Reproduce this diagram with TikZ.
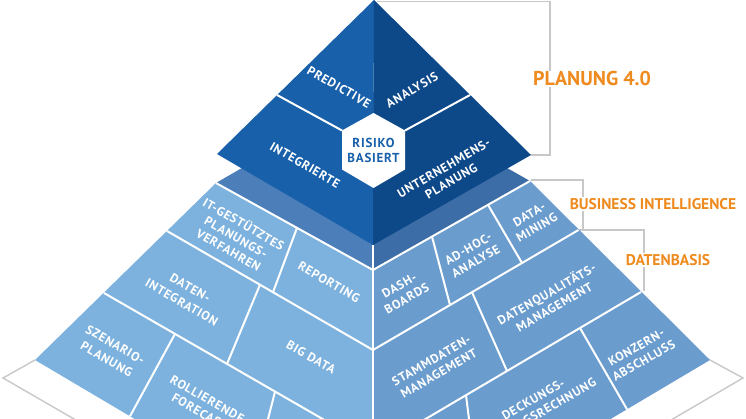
\documentclass[tikz,border=0pt]{standalone}
\usepackage{fontspec}
\setmainfont{PT Sans}
\newfontfamily\brickfont{PT Sans}[LetterSpace=6]
\definecolor{topL}{RGB}{24,96,170}
\definecolor{topR}{RGB}{13,72,137}
\definecolor{bandL}{RGB}{76,126,186}
\definecolor{bandR}{RGB}{60,109,166}
\definecolor{faceL}{RGB}{125,178,222}
\definecolor{faceR}{RGB}{106,156,206}
\definecolor{grayline}{RGB}{200,200,200}
\definecolor{orangeT}{RGB}{238,138,30}
\tikzset{
  wline/.style={draw=white, line width=2pt},
  gline/.style={draw=grayline, line width=1.4pt},
  brick/.style={text=white, font=\brickfont\bfseries\fontsize{12.5}{15}\selectfont, align=center, inner sep=0pt},
  widebrick/.style={font=\brickfont\bfseries\fontsize{12.5}{17}\selectfont},
  lbrick/.style={brick, rotate=-30},
  rbrick/.style={brick, rotate=30},
  hexlabel/.style={brick, text=topL, font=\brickfont\bfseries\fontsize{13}{15}\selectfont},
  callout/.style={text=orangeT, fill=white, inner sep=1pt, font=\bfseries\fontsize{15.5}{18}\selectfont},
  bigcallout/.style={callout, font=\bfseries\fontsize{20}{24}\selectfont},
}
\begin{document}
\begin{tikzpicture}[x=1pt,y=-1pt]
\useasboundingbox (0,0) rectangle (746,419);
\clip (0,0) rectangle (746,419);
% top pyramid points
\coordinate (A) at (374,0);
\coordinate (PL) at (217,154);
\coordinate (PF) at (373,245);
\coordinate (PR) at (531,155);
% band / frustum top
\coordinate (BB) at (373,92);
\coordinate (BL) at (216,183);
\coordinate (BF) at (373,270);
\coordinate (BR) at (530,181);
% lower faces
\coordinate (FL) at (35,360);
\coordinate (FR) at (710,360);
\coordinate (FB) at (373,560);
\coordinate (CB) at (373,600);
% row lines
\coordinate (RL1a) at (167,231);   \coordinate (RL1b) at (373,350);
\coordinate (RL2a) at (104,293);   \coordinate (RL2b) at (373,448);
\coordinate (RR1a) at (578.5,230); \coordinate (RR1b) at (373,350);
\coordinate (RR2a) at (641,292);   \coordinate (RR2b) at (373,450);
% dividers left
\coordinate (D1t) at (297,227.9); \coordinate (D1b) at (273,292.2);
\coordinate (D2t) at (260,284.7); \coordinate (D2b) at (227,363.9);
\coordinate (D3t) at (175,333.9); \coordinate (D3b) at (130,416.2);
\coordinate (D4t) at (275,391.5); \coordinate (D4b) at (262,443);
% dividers right
\coordinate (E1t) at (432,236.6); \coordinate (E1b) at (450,305);
\coordinate (E2t) at (488,204.8); \coordinate (E2b) at (522,263);
\coordinate (E3t) at (472,292.2); \coordinate (E3b) at (507,371);
\coordinate (E4t) at (466,395.2); \coordinate (E4b) at (472,443);
\coordinate (E5t) at (580,328);   \coordinate (E5b) at (627,409.3);
% floor
\coordinate (GL1) at (3,378); \coordinate (GL2) at (100,434);
\coordinate (GR1) at (743,378); \coordinate (GR2) at (647,434);
% brackets
\coordinate (K1a) at (377,1.5); \coordinate (K1b) at (550,1.5);
\coordinate (K1c) at (550,155); \coordinate (K1d) at (531,155);
\coordinate (K2a) at (531,180); \coordinate (K2b) at (583,180);
\coordinate (K2c) at (583,230);
\coordinate (K3a) at (578.5,230); \coordinate (K3b) at (644,230);
\coordinate (K3c) at (644,291);

% brackets
\draw[gline] (K1a) -- (K1b) -- (K1c) -- (K1d);
\draw[gline] (K2a) -- (K2b) -- (K2c);
\draw[gline] (K3a) -- (K3b) -- (K3c);

% band
\fill[bandL] (BL) -- (BB) -- (BF) -- cycle;
\fill[bandR] (BR) -- (BB) -- (BF) -- cycle;
% faces
\fill[faceL] (BL) -- (BF) -- (FB) -- (FL) -- cycle;
\fill[faceR] (BF) -- (BR) -- (FR) -- (FB) -- cycle;
% floor outline
\draw[gline] (FL) -- (GL1) -- (GL2);
\draw[gline] (FR) -- (GR1) -- (GR2);
% white structure lines
\draw[wline] (BL) -- (BF) -- (BR);
\draw[wline] (PF) -- (CB);
\draw[wline] (RL1a) -- (RL1b);
\draw[wline] (RL2a) -- (RL2b);
\draw[wline] (RR1a) -- (RR1b);
\draw[wline] (RR2a) -- (RR2b);
\draw[wline] (D1t) -- (D1b);
\draw[wline] (D2t) -- (D2b);
\draw[wline] (D3t) -- (D3b);
\draw[wline] (D4t) -- (D4b);
\draw[wline] (E1t) -- (E1b);
\draw[wline] (E2t) -- (E2b);
\draw[wline] (E3t) -- (E3b);
\draw[wline] (E4t) -- (E4b);
\draw[wline] (E5t) -- (E5b);

% top pyramid
\fill[topL] (A) -- (PL) -- (PF) -- cycle;
\fill[topR] (A) -- (PF) -- (PR) -- cycle;
\coordinate (H1) at (373.5,113);
\coordinate (H2) at (405,130.5);
\coordinate (H3) at (405,169.5);
\coordinate (H4) at (373.5,188);
\coordinate (H5) at (342,169.5);
\coordinate (H6) at (342,130.5);
\coordinate (TLa) at (277,95);
\coordinate (TRa) at (470,95);
\draw[wline] (TLa) -- (H6);
\draw[wline] (TRa) -- (H2);
\fill[white] (H1) -- (H2) -- (H3) -- (H4) -- (H5) -- (H6) -- cycle;

% top texts
\node[lbrick] (tPred) at (339,87) {PREDICTIVE};
\node[rbrick] (tAna) at (412,90) {ANALYSIS};
\node[lbrick] (tInt) at (305,165) {INTEGRIERTE};
\node[rbrick] (tUnt) at (447.5,174.5) {UNTERNEHMENS-\\PLANUNG};
\node[hexlabel] (tRisk) at (373.5,150) {RISIKO\\BASIERT};

% left face texts
\node[lbrick] (tIT) at (236.5,236.5) {IT-GESTÜTZTES\\PLANUNGS-\\VERFAHREN};
\node[lbrick] (tRep) at (329,282) {REPORTING};
\node[lbrick, widebrick] (tDI) at (186,295) {DATEN-\\INTEGRATION};
\node[lbrick] (tBig) at (311,357) {BIG DATA};
\node[lbrick, widebrick] (tSz) at (111,352) {SZENARIO-\\PLANUNG};
\node[lbrick] (tRoll) at (203.5,405.5) {ROLLIERENDE\\FORECAST};

% right face texts
\node[rbrick] (tDash) at (403,292) {DASH-\\BOARDS};
\node[rbrick] (tAdh) at (472,255) {AD-HOC-\\ANALYSE};
\node[rbrick] (tDM) at (533,221) {DATA-\\MINING};
\node[rbrick] (tDQ) at (550,300) {DATENQUALITÄTS-\\MANAGEMENT};
\node[rbrick] (tSt) at (435,367) {STAMMDATEN-\\MANAGEMENT};
\node[rbrick] (tKon) at (640,354) {KONZERN-\\ABSCHLUSS};
\node[rbrick] (tDB) at (537,406) {DECKUNGS-\\BEITRAGSRECHNUNG};

% callouts
\node[bigcallout] (cPlan) at (592,79) {PLANUNG 4.0};
\node[callout] (cBI) at (653,204) {BUSINESS INTELLIGENCE};
\node[callout] (cDB) at (668,260) {DATENBASIS};
\end{tikzpicture}
\end{document}
